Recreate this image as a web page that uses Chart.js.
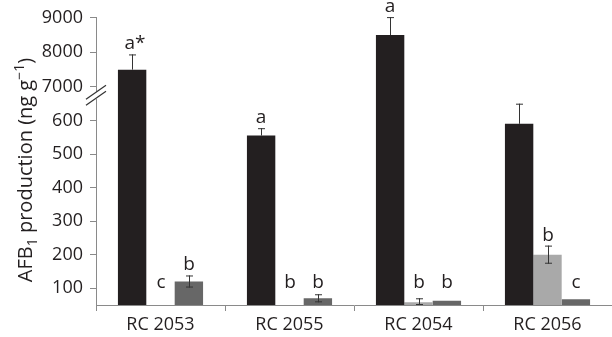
<!DOCTYPE html>
<html>
<head>
<meta charset="utf-8">
<script src="https://cdn.jsdelivr.net/npm/chart.js@4.4.1/dist/chart.umd.min.js"></script>
<style>
  html, body { margin: 0; padding: 0; background: #fff; }
  #wrap { width: 612px; height: 337px; }
</style>
</head>
<body>
<div id="wrap"><canvas id="chart" width="612" height="337"></canvas></div>
<script>
// ─── Data ─────────────────────────────────────────────────────────────────────
const CATEGORIES   = ['RC 2053', 'RC 2055', 'RC 2054', 'RC 2056'];
const BLACK_VALUES = [7500, 555, 8500, 590];
const BLACK_ERR    = [440, 22, 520, 60];
const LIGHT_VALUES = [0, 0, 58, 200];
const LIGHT_ERR    = [0, 0, 12, 27];
const DARK_VALUES  = [120, 70, 63, 67];
const DARK_ERR     = [18, 12, 0, 0];
const BLACK_LETTERS = ['a*', 'a', 'a', ''];
const LIGHT_LETTERS = ['c', 'b', 'b', 'b'];
const DARK_LETTERS  = ['b', 'b', 'b', 'c'];
const Y_TICKS = [100, 200, 300, 400, 500, 600, 7000, 8000, 9000];

// broken axis: 50–650 drawn as is, 6500–9000 compressed above it
const BREAK_LOW  = 650;
const UPPER_BASE = 7000;
const UPPER_AT   = 700;
const UPPER_K    = 0.103;

function toDisp(v) {
  return v <= BREAK_LOW ? v : UPPER_AT + (v - UPPER_BASE) * UPPER_K;
}
function fromDisp(d) {
  return d <= BREAK_LOW ? d : UPPER_BASE + (d - UPPER_AT) / UPPER_K;
}

const FONT = '"Open Sans", sans-serif';
const AXIS_COLOR = '#8a8a8a';
const TEXT_COLOR = '#231f20';

const SERIES = [
  { values: BLACK_VALUES, err: BLACK_ERR, letters: BLACK_LETTERS, color: '#231f20', upOnly: true },
  { values: LIGHT_VALUES, err: LIGHT_ERR, letters: LIGHT_LETTERS, color: '#a9a9a9' },
  { values: DARK_VALUES,  err: DARK_ERR,  letters: DARK_LETTERS,  color: '#676767' },
];

// ─── Plugins ──────────────────────────────────────────────────────────────────
const errorBarsAndLetters = {
  id: 'errorBarsAndLetters',
  afterDatasetsDraw(chart) {
    const ctx = chart.ctx;
    const y = chart.scales.y;
    ctx.save();
    SERIES.forEach((s, di) => {
      const meta = chart.getDatasetMeta(di);
      meta.data.forEach((bar, i) => {
        const v = s.values[i], e = s.err[i];
        const x = Math.round(bar.x);
        if (e > 0) {
          const yTop = y.getPixelForValue(toDisp(v + e));
          const yBot = s.upOnly ? bar.y : y.getPixelForValue(toDisp(Math.max(v - e, 50)));
          ctx.strokeStyle = '#333';
          ctx.lineWidth = 1;
          ctx.beginPath();
          ctx.moveTo(x + 0.5, yTop);
          ctx.lineTo(x + 0.5, yBot);
          ctx.moveTo(x - 3, yTop + 0.5);
          ctx.lineTo(x + 4, yTop + 0.5);
          if (!s.upOnly) {
            ctx.moveTo(x - 3, yBot - 0.5);
            ctx.lineTo(x + 4, yBot - 0.5);
          }
          ctx.stroke();
        }
        const label = s.letters[i];
        if (label) {
          const top = y.getPixelForValue(toDisp(v + e)) - 5;
          const ly = Math.min(top, y.getPixelForValue(100));
          ctx.fillStyle = TEXT_COLOR;
          ctx.font = '19px ' + FONT;
          ctx.textAlign = 'center';
          ctx.textBaseline = 'alphabetic';
          ctx.fillText(label, x + (label.length > 1 ? 3 : 0), ly);
        }
      });
    });
    ctx.restore();
  },
};

const axisExtras = {
  id: 'axisExtras',
  afterDraw(chart) {
    const ctx = chart.ctx;
    const y = chart.scales.y;
    const ax = chart.chartArea.left;
    const ym = y.getPixelForValue((BREAK_LOW + UPPER_AT) / 2);
    ctx.save();
    // break marks
    ctx.fillStyle = '#fff';
    ctx.beginPath();
    ctx.moveTo(ax - 3, ym - 1);
    ctx.lineTo(ax + 3, ym - 5);
    ctx.lineTo(ax + 3, ym + 2);
    ctx.lineTo(ax - 3, ym + 6);
    ctx.closePath();
    ctx.fill();
    ctx.strokeStyle = '#333';
    ctx.lineWidth = 1.2;
    [-3, 3].forEach(off => {
      ctx.beginPath();
      ctx.moveTo(ax - 10, ym + off + 7);
      ctx.lineTo(ax + 10, ym + off - 7);
      ctx.stroke();
    });

    // y title with subscript / superscript
    const parts = [
      { t: 'AFB', size: 20, dy: 0 },
      { t: '1', size: 14, dy: 5 },
      { t: ' production (ng g', size: 20, dy: 0 },
      { t: '\u22121', size: 14, dy: -8 },
      { t: ')', size: 20, dy: 0 },
    ];
    let total = 0;
    parts.forEach(p => { ctx.font = p.size + 'px ' + FONT; p.w = ctx.measureText(p.t).width; total += p.w; });
    ctx.translate(32, 170);
    ctx.rotate(-Math.PI / 2);
    ctx.fillStyle = TEXT_COLOR;
    ctx.textBaseline = 'alphabetic';
    ctx.textAlign = 'left';
    let cx = -total / 2;
    parts.forEach(p => {
      ctx.font = p.size + 'px ' + FONT;
      ctx.fillText(p.t, cx, p.dy);
      cx += p.w;
    });
    ctx.restore();
  },
};

// ─── Chart ────────────────────────────────────────────────────────────────────
new Chart(document.getElementById('chart'), {
  type: 'bar',
  data: {
    labels: CATEGORIES,
    datasets: SERIES.map(s => ({
      data: s.values.map(v => toDisp(Math.max(v, 50))),
      backgroundColor: s.color,
      categoryPercentage: 0.66,
      barPercentage: 1.0,
    })),
  },
  options: {
    responsive: false,
    animation: false,
    layout: { padding: { top: 17, right: 0, left: 0, bottom: 0 } },
    plugins: { legend: { display: false }, tooltip: { enabled: false } },
    scales: {
      x: {
        grid: { drawOnChartArea: false, drawTicks: true, tickLength: 6, color: AXIS_COLOR, offset: true },
        border: { display: true, color: AXIS_COLOR, width: 1 },
        ticks: { color: TEXT_COLOR, font: { family: FONT, size: 18 }, padding: 3 },
        afterFit: s => { s.height = 32; },
      },
      y: {
        min: 50,
        max: toDisp(9000),
        grid: { drawOnChartArea: false, drawTicks: true, tickLength: 6, color: AXIS_COLOR },
        border: { display: true, color: AXIS_COLOR, width: 1 },
        ticks: {
          color: TEXT_COLOR,
          font: { family: FONT, size: 18 },
          padding: 7,
          callback: v => String(Math.round(fromDisp(v) / 100) * 100),
        },
        afterBuildTicks: s => { s.ticks = Y_TICKS.map(v => ({ value: toDisp(v) })); },
        afterFit: s => { s.width = 96; },
      },
    },
  },
  plugins: [errorBarsAndLetters, axisExtras],
});
</script>
</body>
</html>
